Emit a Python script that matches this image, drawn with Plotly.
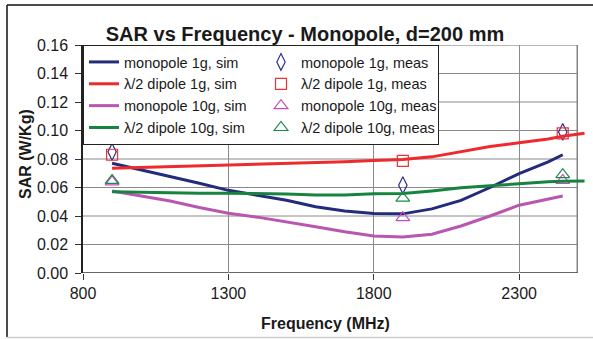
import plotly.graph_objects as go

# ---- data -------------------------------------------------------------
freq_sim = [900, 1000, 1100, 1200, 1300, 1400, 1500, 1600, 1700, 1800,
            1900, 2000, 2100, 2200, 2300, 2400, 2450]
freq_sim_ext = freq_sim + [2525]

mono_1g_sim = [0.077, 0.0725, 0.068, 0.063, 0.058, 0.0545, 0.051, 0.0465, 0.0435,
               0.0418, 0.0415, 0.045, 0.051, 0.060, 0.0698, 0.078, 0.083]
dip_1g_sim = [0.0735, 0.074, 0.0745, 0.075, 0.0757, 0.0763, 0.077, 0.0775, 0.078,
              0.079, 0.0797, 0.0815, 0.085, 0.0887, 0.0914, 0.094, 0.096, 0.098]
mono_10g_sim = [0.0575, 0.054, 0.0505, 0.046, 0.042, 0.0392, 0.036, 0.0325, 0.029,
                0.026, 0.0253, 0.0272, 0.033, 0.040, 0.0476, 0.052, 0.054]
dip_10g_sim = [0.057, 0.0565, 0.0563, 0.056, 0.056, 0.0558, 0.0555, 0.0548, 0.0548,
               0.0556, 0.0558, 0.0576, 0.0598, 0.0612, 0.0628, 0.064, 0.0643, 0.0646]

freq_meas = [900, 1900, 2450]
mono_1g_meas = [0.085, 0.0616, 0.099]
dip_1g_meas = [0.083, 0.0787, 0.098]
mono_10g_meas = [0.064, 0.0388, 0.065]
dip_10g_meas = [0.065, 0.0525, 0.069]

x_ticks = [800, 1300, 1800, 2300]
y_ticks = [0.00, 0.02, 0.04, 0.06, 0.08, 0.10, 0.12, 0.14, 0.16]
x_max = 2500

# ---- style ------------------------------------------------------------
W, H = 593, 339
ML, MR, MT, MB = 83, 7, 45, 66
FONT = "Liberation Sans, Arial, sans-serif"
NAVY, RED, MAGENTA, GREEN = "#232B7B", "#EE2A2E", "#B956B0", "#16843F"

fig = go.Figure()


def sim(name, x, y, color):
    fig.add_trace(go.Scatter(x=x, y=y, name=name, mode="lines",
                             line=dict(color=color, width=3)))


def meas(name, x, y, color, symbol, size):
    fig.add_trace(go.Scatter(x=x, y=y, name=name, mode="markers",
                             marker=dict(symbol=symbol, size=size, color=color,
                                         line=dict(color=color, width=1.2))))


sim("monopole 1g, sim", freq_sim, mono_1g_sim, NAVY)
meas("monopole 1g, meas", freq_meas, mono_1g_meas, "#2B2F8F", "diamond-tall-open", 12)
sim("\u03bb/2 dipole 1g, sim", freq_sim_ext, dip_1g_sim, RED)
meas("\u03bb/2 dipole 1g, meas", freq_meas, dip_1g_meas, "#E8333A", "square-open", 11)
sim("monopole 10g, sim", freq_sim, mono_10g_sim, MAGENTA)
meas("monopole 10g, meas", freq_meas, mono_10g_meas, "#C24CC0", "triangle-up-open", 12)
sim("\u03bb/2 dipole 10g, sim", freq_sim_ext, dip_10g_sim, GREEN)
meas("\u03bb/2 dipole 10g, meas", freq_meas, dip_10g_meas, "#1E8A4A", "triangle-up-open", 12)

# plot frame and horizontal grid stop at x_max
shapes = []
for v in y_ticks[1:-1]:
    shapes.append(dict(type="line", xref="x", yref="y", x0=x_ticks[0], x1=x_max, y0=v, y1=v,
                       line=dict(color="#8A8A8A", width=1), layer="below"))
shapes.append(dict(type="line", xref="x", yref="y", x0=x_ticks[0], x1=x_max,
                   y0=y_ticks[-1], y1=y_ticks[-1], line=dict(color="#707070", width=1.2), layer="below"))
shapes.append(dict(type="line", xref="x", yref="y", x0=x_max, x1=x_max,
                   y0=y_ticks[0], y1=y_ticks[-1], line=dict(color="#808080", width=1.5), layer="below"))
shapes.append(dict(type="line", xref="x", yref="y", x0=x_ticks[0], x1=x_max,
                   y0=y_ticks[0], y1=y_ticks[0], line=dict(color="#333333", width=1.5), layer="below"))

# outer chart frame (pixel positions converted to paper units)
pw, ph = W - ML - MR, H - MT - MB


def px(xp):
    return (xp - ML) / pw


def py(yp):
    return (H - MB - yp) / ph


shapes += [
    dict(type="line", xref="paper", yref="paper", x0=px(7), x1=px(W), y0=py(5), y1=py(5),
         line=dict(color="#111111", width=1.5)),
    dict(type="line", xref="paper", yref="paper", x0=px(7), x1=px(7), y0=py(5), y1=py(337),
         line=dict(color="#111111", width=1.5)),
    dict(type="line", xref="paper", yref="paper", x0=px(7), x1=px(W), y0=py(337.5), y1=py(337.5),
         line=dict(color="#CFCFCF", width=1.5)),
]

annotations = [
    dict(text="<b>Frequency (MHz)</b>", xref="paper", yref="paper", x=px(325), y=py(323),
         xanchor="center", yanchor="middle", showarrow=False,
         font=dict(family=FONT, size=16, color="#1A1A1A")),
    dict(text="<b>SAR (W/Kg)</b>", xref="paper", yref="paper", x=px(25), y=py(154),
         xanchor="center", yanchor="middle", showarrow=False, textangle=-90,
         font=dict(family=FONT, size=16, color="#1A1A1A")),
]

fig.update_layout(
    width=W, height=H,
    margin=dict(l=ML, r=MR, t=MT, b=MB),
    paper_bgcolor="white", plot_bgcolor="white",
    font=dict(family=FONT, size=16, color="#1A1A1A"),
    title=dict(text="<b>SAR vs Frequency - Monopole, d=200 mm</b>",
               xref="container", yref="container", x=305 / W, y=1 - 33.5 / H,
               xanchor="center", yanchor="middle",
               font=dict(family=FONT, size=20, color="#1A1A1A")),
    xaxis=dict(range=[800, 2530], tickvals=x_ticks, ticktext=[str(t) for t in x_ticks],
               showgrid=True, gridcolor="#8A8A8A", gridwidth=1, zeroline=False,
               showline=False, ticks="outside", ticklen=6, tickcolor="#333333",
               tickfont=dict(size=16)),
    yaxis=dict(range=[0, 0.16], tickvals=y_ticks, tickformat=".2f",
               showgrid=False, zeroline=False,
               showline=True, linecolor="#222222", linewidth=1.5,
               ticks="outside", ticklen=6, tickcolor="#333333", ticklabelstandoff=4,
               tickfont=dict(size=16)),
    legend=dict(orientation="h", x=0, y=1, xanchor="left", yanchor="top",
                entrywidth=132, bgcolor="white", bordercolor="#222222", borderwidth=1,
                font=dict(family=FONT, size=14.5, color="#1A1A1A"), traceorder="normal"),
    shapes=shapes,
    annotations=annotations,
    showlegend=True,
)

fig.write_html("out.html")
